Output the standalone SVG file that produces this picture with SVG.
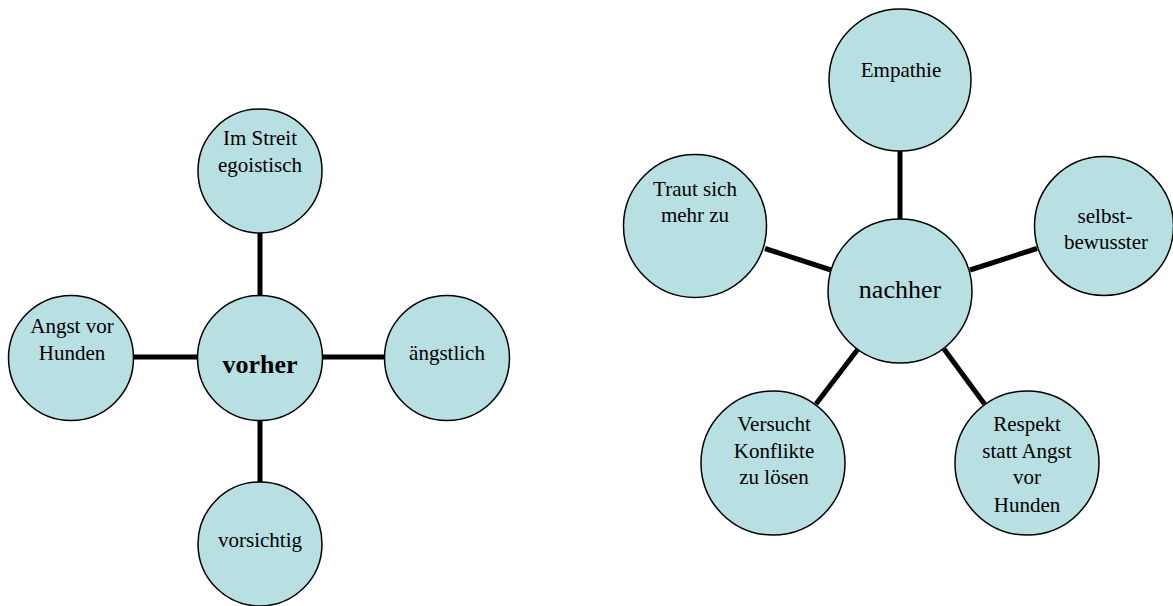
<svg xmlns="http://www.w3.org/2000/svg" width="1173" height="606" viewBox="0 0 1173 606">
<style>
  .node { fill: #b8dfe2; stroke: #000; stroke-width: 1.5; }
  .conn { stroke: #000; stroke-width: 5; fill: none; }
  .lbl { font-family: "Liberation Serif", "Times New Roman", serif; font-size: 21px; fill: #000; text-anchor: middle; }
  .big { font-size: 26px; }
  .bold { font-weight: bold; }
</style>
<rect width="1173" height="606" fill="#fff"/>
<g id="connectors">
  <line class="conn" x1="260" y1="232" x2="260" y2="295"/>
  <line class="conn" x1="134" y1="357" x2="197" y2="357"/>
  <line class="conn" x1="323" y1="357" x2="385" y2="357"/>
  <line class="conn" x1="260" y1="420" x2="260" y2="483"/>
  <line class="conn" x1="900" y1="150" x2="900" y2="221"/>
  <line class="conn" x1="765" y1="248.5" x2="831" y2="270"/>
  <line class="conn" x1="970" y1="270" x2="1037" y2="248.5"/>
  <line class="conn" x1="858" y1="349" x2="816" y2="404"/>
  <line class="conn" x1="944" y1="349" x2="984.5" y2="404"/>
</g>
<g id="vorher">
  <circle class="node" cx="260" cy="358" r="62.5"/>
  <text class="lbl big bold" x="260" y="373">vorher</text>
</g>
<g id="im-streit">
  <circle class="node" cx="260" cy="171" r="62"/>
  <text class="lbl" x="260" y="145">Im Streit</text>
  <text class="lbl" x="260" y="172">egoistisch</text>
</g>
<g id="angst-vor-hunden">
  <circle class="node" cx="71" cy="358" r="62.5"/>
  <text class="lbl" x="72" y="333">Angst vor</text>
  <text class="lbl" x="72" y="360">Hunden</text>
</g>
<g id="aengstlich">
  <circle class="node" cx="447" cy="358" r="62.5"/>
  <text class="lbl" x="447" y="360">ängstlich</text>
</g>
<g id="vorsichtig">
  <circle class="node" cx="260" cy="544" r="62"/>
  <text class="lbl" x="260" y="547">vorsichtig</text>
</g>
<g id="nachher">
  <circle class="node" cx="900" cy="291" r="72"/>
  <text class="lbl big" x="900" y="298">nachher</text>
</g>
<g id="empathie">
  <circle class="node" cx="900" cy="80" r="71"/>
  <text class="lbl" x="901" y="77">Empathie</text>
</g>
<g id="traut-sich">
  <circle class="node" cx="695" cy="226" r="71.5"/>
  <text class="lbl" x="695" y="196">Traut sich</text>
  <text class="lbl" x="695" y="222">mehr zu</text>
</g>
<g id="selbstbewusster">
  <circle class="node" cx="1104" cy="226" r="69.5"/>
  <text class="lbl" x="1105" y="223">selbst-</text>
  <text class="lbl" x="1106" y="249">bewusster</text>
</g>
<g id="versucht">
  <circle class="node" cx="773" cy="463" r="72"/>
  <text class="lbl" x="774" y="431">Versucht</text>
  <text class="lbl" x="774" y="458">Konflikte</text>
  <text class="lbl" x="774" y="484">zu lösen</text>
</g>
<g id="respekt">
  <circle class="node" cx="1027" cy="463" r="72"/>
  <text class="lbl" x="1027" y="431">Respekt</text>
  <text class="lbl" x="1027" y="458">statt Angst</text>
  <text class="lbl" x="1027" y="484">vor</text>
  <text class="lbl" x="1027" y="512">Hunden</text>
</g>
</svg>
